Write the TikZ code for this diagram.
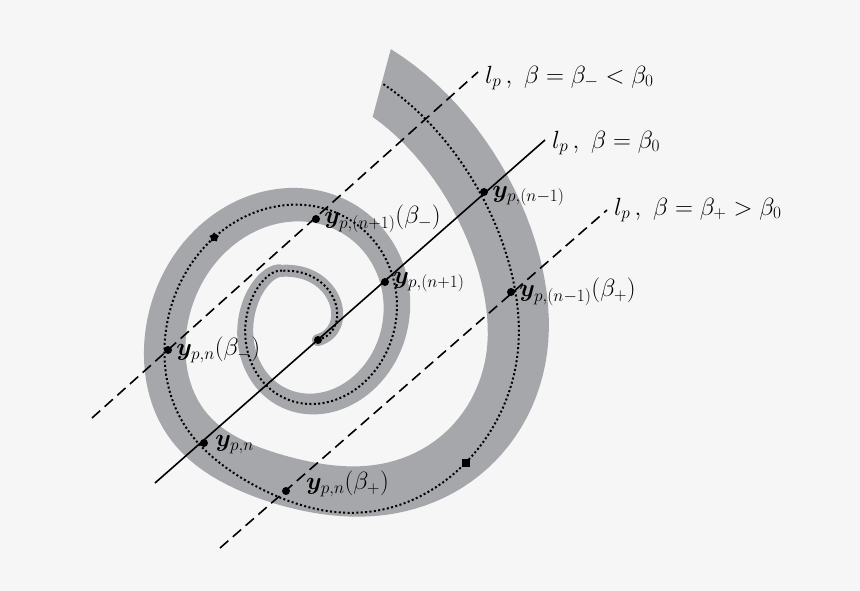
\documentclass[tikz,border=0pt]{standalone}
\usepackage{amsmath}
\usepackage{bm}
\usetikzlibrary{positioning,shapes.geometric,arrows}
\definecolor{bandgray}{HTML}{A6A7AA}
\definecolor{paper}{HTML}{F6F6F6}
\tikzset{
  dot/.style={circle,fill=black,inner sep=0pt,minimum size=8pt},
  lbl/.style={font=\fontsize{25}{28}\selectfont,inner sep=1pt},
  line/.style={line width=1.6pt},
  dashline/.style={line width=1.6pt,dash pattern=on 11pt off 6pt},
  dotline/.style={line width=2pt,dash pattern=on 2pt off 2.4pt},
  declare function={
    rx(\t)=-8+0.2847*\t;
    ry(\t)=13.1+0.2542*\t+0.9*max(0,\t-720)-16*exp(-((\t-600)/40)^2);
    wd(\t)=10+0.02*\t+0.7*(\t/100)^2;
    sh(\t)=22*exp(-((\t-640)/45)^2);
    cx(\t)=280+0.0569*\t;
    cy(\t)=301.9+0.0681*\t;
  },
}
\begin{document}
\begin{tikzpicture}[x=1pt,y=-1pt]
  \fill[paper] (0,0) rectangle (860,591);
  \useasboundingbox (0,0) rectangle (860,591);

  % spiral band
  \coordinate (sp0) at (318,340);
  \coordinate (sp1) at ({cx(100)+rx(100)*cos(100)},{cy(100)-ry(100)*sin(100)});
  \fill[bandgray] plot[domain=100:795,samples=240,variable=\t]
      ({cx(\t)+(rx(\t)-sh(\t)+wd(\t)/2)*cos(\t)},{cy(\t)-(ry(\t)-sh(\t)+wd(\t)/2)*sin(\t)})
    -- plot[domain=795:100,samples=240,variable=\t]
      ({cx(\t)+(rx(\t)-sh(\t)-wd(\t)/2)*cos(\t)},{cy(\t)-(ry(\t)-sh(\t)-wd(\t)/2)*sin(\t)})
    -- cycle;
  \draw[bandgray,line width=12pt,line cap=round] (sp0) .. controls (354,330) and (338,268) .. (sp1);

  % dotted centre line
  \draw[dotline] (sp0) .. controls (354,330) and (338,268) .. (sp1);
  \draw[dotline] plot[domain=100:795,samples=240,variable=\t]
      ({cx(\t)+rx(\t)*cos(\t)},{cy(\t)-ry(\t)*sin(\t)});

  % lines
  \coordinate (s1) at (155,483);
  \coordinate (s2) at (545,140);
  \coordinate (u1) at (92,418);
  \coordinate (u2) at (478,72);
  \coordinate (w1) at (220,548);
  \coordinate (w2) at (607,210);
  \draw[line] (s1) -- (s2);
  \draw[dashline] (u1) -- (u2);
  \draw[dashline] (w1) -- (w2);

  % points
  \node[dot] (c) at (318,340) {};
  \node[dot] (n1) at (385,282) {};
  \node[dot] (m1) at (484,192) {};
  \node[dot] (n) at (204,443) {};
  \node[dot] (n1m) at (316,219) {};
  \node[dot] (nm) at (168,350) {};
  \node[dot] (m1p) at (511,292) {};
  \node[dot] (np) at (286,491) {};
  \node[star,star points=5,fill=black,inner sep=0pt,minimum size=10pt] (st)
    at ({cx(495)+rx(495)*cos(495)},{cy(495)-ry(495)*sin(495)}) {};
  \node[rectangle,fill=black,inner sep=0pt,minimum size=8pt] (sq)
    at ({cx(682)+rx(682)*cos(682)},{cy(682)-ry(682)*sin(682)}) {};

  % labels
  \node[lbl,right=3pt of n1m] {$\bm{y}_{p,(n+1)}(\beta_-)$};
  \node[lbl,right=3pt of m1,yshift=-4pt] {$\bm{y}_{p,(n-1)}$};
  \node[lbl,right=3pt of n1] {$\bm{y}_{p,(n+1)}$};
  \node[lbl,right=3pt of m1p] {$\bm{y}_{p,(n-1)}(\beta_+)$};
  \node[lbl,right=3pt of nm] {$\bm{y}_{p,n}(\beta_-)$};
  \node[lbl,right=6pt of n,yshift=-2pt] {$\bm{y}_{p,n}$};
  \node[lbl,above right=-10pt and 16pt of np] {$\bm{y}_{p,n}(\beta_+)$};
  \node[lbl,right=6pt of u2,yshift=-6pt] {$l_p\,,\ \beta=\beta_-<\beta_0$};
  \node[lbl,right=6pt of s2,yshift=-3pt] {$l_p\,,\ \beta=\beta_0$};
  \node[lbl,right=6pt of w2] {$l_p\,,\ \beta=\beta_+>\beta_0$};
\end{tikzpicture}
\end{document}
